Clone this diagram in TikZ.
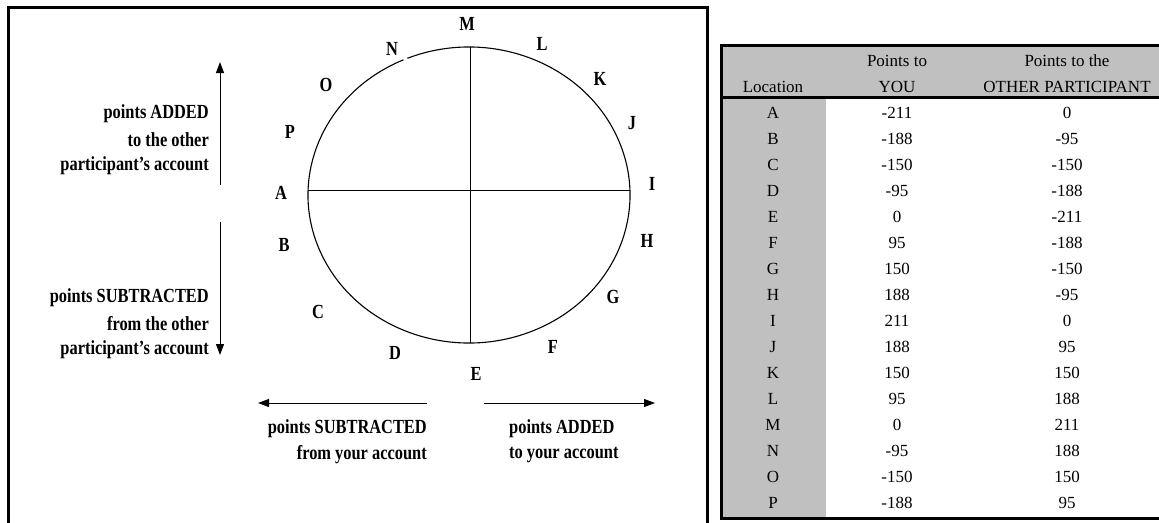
\documentclass[tikz,border=0pt]{standalone}
\usepackage{fontspec}
\setmainfont{Liberation Serif}
\newfontfamily\lblfont{Liberation Serif}[FakeStretch=0.82, Ligatures=TeX]
\usetikzlibrary{arrows.meta}
\definecolor{cellgray}{HTML}{C0C0C0}
\tikzset{
  lbl/.style={font=\lblfont\bfseries\fontsize{20}{24}\selectfont, inner sep=0pt},
  cell/.style={font=\fontsize{17}{20}\selectfont, inner sep=0pt},
  arr/.style={-{Triangle[length=11pt,width=8pt]}, line width=1pt},
}
\begin{document}
\begin{tikzpicture}[x=1pt,y=-1pt]
\useasboundingbox (0,0) rectangle (1159,522);
% left panel
\draw[line width=3pt] (8.5,540) |- (707.5,7.5) -- (707.5,540);
\draw[line width=1.1pt] (469,195) ++(-112.5:161 and 148)
  arc[start angle=-112.5, end angle=246, x radius=161, y radius=148];
\coordinate (top) at (470,47);
\coordinate (bot) at (470,343);
\coordinate (lft) at (308,190);
\coordinate (rgt) at (630,190);
\draw[line width=1pt] (top) -- (bot);
\draw[line width=1pt] (lft) -- (rgt);
% locations round the circle
\node[lbl] (lM) at (467,24) {M};
\node[lbl] (lL) at (542,44) {L};
\node[lbl] (lK) at (600,79) {K};
\node[lbl] (lJ) at (632,123) {J};
\node[lbl] (lI) at (652,184) {I};
\node[lbl] (lH) at (647,241) {H};
\node[lbl] (lG) at (613,297) {G};
\node[lbl] (lF) at (553,347) {F};
\node[lbl] (lE) at (476,374) {E};
\node[lbl] (lD) at (395,353) {D};
\node[lbl] (lC) at (318,312) {C};
\node[lbl] (lB) at (284,245) {B};
\node[lbl] (lA) at (281,193) {A};
\node[lbl] (lP) at (290,132) {P};
\node[lbl] (lO) at (326,85) {O};
\node[lbl] (lN) at (392,49) {N};
% other participant
\coordinate (upS) at (220,185);
\coordinate (upE) at (220,62);
\coordinate (dnS) at (220,222);
\coordinate (dnE) at (220,355);
\draw[arr] (upS) -- (upE);
\draw[arr] (dnS) -- (dnE);
\node[lbl, anchor=east] (addA) at (209,114) {points ADDED};
\node[lbl, anchor=east] (addB) at (209,140) {to the other};
\node[lbl, anchor=east] (addC) at (209,166) {participant’s account};
\node[lbl, anchor=east] (subA) at (209,298) {points SUBTRACTED};
\node[lbl, anchor=east] (subB) at (209,324) {from the other};
\node[lbl, anchor=east] (subC) at (209,350) {participant’s account};
% you
\coordinate (lfS) at (427,403);
\coordinate (lfE) at (258,403);
\coordinate (rtS) at (484,403);
\coordinate (rtE) at (655,403);
\draw[arr] (lfS) -- (lfE);
\draw[arr] (rtS) -- (rtE);
\node[lbl, anchor=east] (ysubA) at (427,429) {points SUBTRACTED};
\node[lbl, anchor=east] (ysubB) at (427,455) {from your account};
\node[lbl, anchor=west] (yaddA) at (509,429) {points ADDED};
\node[lbl, anchor=west] (yaddB) at (509,455) {to your account};
% table
\fill[cellgray] (721.5,45.5) rectangle (1170,97.5);
\fill[cellgray] (721.5,97.5) rectangle (826,518.5);
\draw[line width=3pt] (1170,45.5) -| (721.5,518.5) -- (1170,518.5);
\draw[line width=3pt] (721.5,97.5) -- (1170,97.5);
\node[cell] (hLoc) at (773,87) {Location};
\node[cell] (hYouA) at (897,61) {Points to};
\node[cell] (hYouB) at (897,87) {YOU};
\node[cell] (hOthA) at (1067,61) {Points to the};
\node[cell] (hOthB) at (1067,87) {OTHER PARTICIPANT};
\foreach \l/\y/\o [count=\i] in {A/-211/0, B/-188/-95, C/-150/-150, D/-95/-188,
  E/0/-211, F/95/-188, G/150/-150, H/188/-95, I/211/0, J/188/95, K/150/150,
  L/95/188, M/0/211, N/-95/188, O/-150/150, P/-188/95}{
  \node[cell] (loc\l) at (773,87+26*\i) {\l};
  \node[cell] (you\l) at (897,87+26*\i) {\y};
  \node[cell] (oth\l) at (1067,87+26*\i) {\o};
}
\end{tikzpicture}
\end{document}
